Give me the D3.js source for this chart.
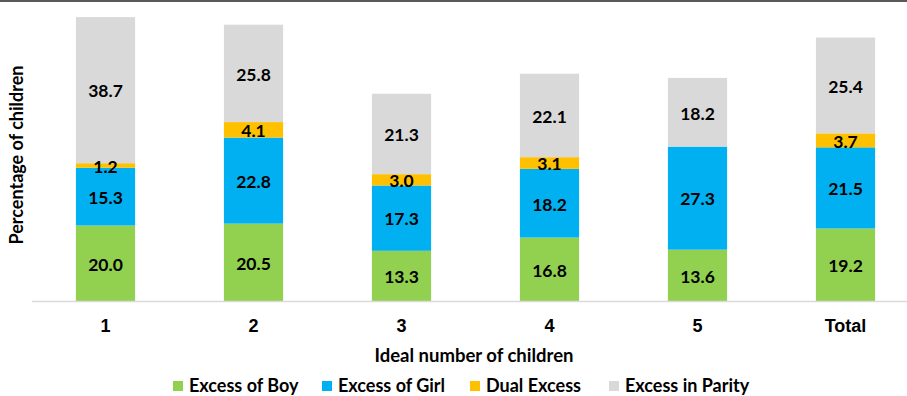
<!DOCTYPE html>
<html>
<head>
<meta charset="utf-8">
<script src="https://cdn.jsdelivr.net/npm/d3@7"></script>
<style>
  html, body { margin: 0; padding: 0; background: #fff; }
  svg { display: block; font-family: Lato, "Open Sans", sans-serif; font-weight: 700; }
</style>
</head>
<body>
<div id="chart"></div>
<script>
const categories = ["1", "2", "3", "4", "5", "Total"];
const seriesNames = ["Excess of Boy", "Excess of Girl", "Dual Excess", "Excess in Parity"];
const excessBoy = [20.0, 20.5, 13.3, 16.8, 13.6, 19.2];
const excessGirl = [15.3, 22.8, 17.3, 18.2, 27.3, 21.5];
const dualExcess = [1.2, 4.1, 3.0, 3.1, 0, 3.7];
const excessParity = [38.7, 25.8, 21.3, 22.1, 18.2, 25.4];
const colors = ["#92D050", "#00B0F0", "#FFC000", "#D9D9D9"];

const W = 907, H = 396;
const svg = d3.select("#chart").append("svg").attr("width", W).attr("height", H);

const x = d3.scaleBand().domain(categories).range([31.5, 919.5]).paddingInner(0.6).paddingOuter(0.3);
const y = d3.scaleLinear().domain([0, 80]).range([301, -1]);

// top border
svg.append("line").attr("x1", 0).attr("x2", W).attr("y1", 1).attr("y2", 1)
  .attr("stroke", "#595959").attr("stroke-width", 2);

const rows = categories.map((c, i) => ({
  cat: c,
  "Excess of Boy": excessBoy[i],
  "Excess of Girl": excessGirl[i],
  "Dual Excess": dualExcess[i],
  "Excess in Parity": excessParity[i]
}));
const stacked = d3.stack().keys(seriesNames)(rows);

const layers = svg.append("g").selectAll("g").data(stacked).join("g")
  .attr("fill", (d, i) => colors[i]);
layers.selectAll("rect").data(d => d.filter(p => p[1] - p[0] > 0)).join("rect")
  .attr("x", d => x(d.data.cat))
  .attr("width", x.bandwidth())
  .attr("y", d => y(d[1]))
  .attr("height", d => y(d[0]) - y(d[1]));

// baseline
svg.append("line").attr("x1", 32).attr("x2", W).attr("y1", y(0) + 0.5).attr("y2", y(0) + 0.5)
  .attr("stroke", "#D9D9D9").attr("stroke-width", 1.5);

// value labels
const labels = svg.append("g").attr("font-size", 17.5).attr("fill", "#000").attr("text-anchor", "middle");
stacked.forEach(layer => {
  layer.filter(p => p[1] - p[0] > 0).forEach(p => {
    labels.append("text")
      .attr("x", x(p.data.cat) + x.bandwidth() / 2)
      .attr("y", (y(p[0]) + y(p[1])) / 2 + 1)
      .attr("dy", "0.36em")
      .text((p[1] - p[0]).toFixed(1));
  });
});

// x axis
const xAxis = svg.append("g").attr("transform", `translate(0,${y(0)})`)
  .call(d3.axisBottom(x).tickSize(0).tickPadding(18));
xAxis.select(".domain").remove();
xAxis.selectAll("text").attr("font-size", 18).attr("font-family", null).attr("fill", "#000");

// axis titles
svg.append("text").attr("x", 474).attr("y", 355).attr("dy", "0.36em")
  .attr("text-anchor", "middle").attr("font-size", 18.5).text("Ideal number of children");
svg.append("text").attr("transform", "translate(17,155) rotate(-90)").attr("dy", "0.36em")
  .attr("text-anchor", "middle").attr("font-size", 18).text("Percentage of children");

// legend
const legendX = [173, 322, 470, 609];
const legend = svg.append("g").selectAll("g").data(seriesNames).join("g")
  .attr("transform", (d, i) => `translate(${legendX[i]},386)`);
legend.append("rect").attr("x", 0).attr("y", -5).attr("width", 10).attr("height", 10)
  .attr("fill", (d, i) => colors[i]);
legend.append("text").attr("x", 16).attr("dy", "0.36em").attr("font-size", 18).text(d => d);
</script>
</body>
</html>
